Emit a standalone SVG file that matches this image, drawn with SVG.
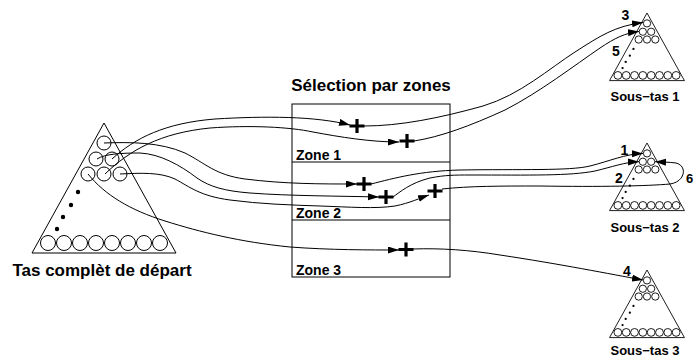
<svg xmlns="http://www.w3.org/2000/svg" width="694" height="358" viewBox="0 0 694 358">
<style>
text{font-family:"Liberation Sans",Arial,sans-serif;font-weight:bold;fill:#000}
.ttl{font-size:17px}
.zn{font-size:14px}
.st{font-size:13px;text-anchor:middle}
.num{font-size:14px;text-anchor:middle}
.hs{fill:none;stroke:#000}
.dot{fill:#000;stroke:none}
.ln{fill:none;stroke:#000;stroke-width:1}
.plus{fill:none;stroke:#000;stroke-width:3.2}
</style>
<defs>
<marker id="ah" markerUnits="userSpaceOnUse" viewBox="0 0 12 8" markerWidth="12" markerHeight="8" refX="11" refY="3.5" orient="auto">
<path d="M0,0 L11,3.5 L0,7 Z" fill="#000"/>
</marker>
<path id="pl" d="M-7.5,0 H7.5 M0,-7 V7"/>
<g id="heap" class="hs">
<path d="M0,0 L-72,130 L72,130 Z"/>
<circle cx="0" cy="20" r="7"/>
<circle cx="-8" cy="36" r="7"/>
<circle cx="8" cy="36" r="7"/>
<circle cx="-16" cy="51" r="7"/>
<circle cx="0" cy="51" r="7"/>
<circle cx="16" cy="51" r="7"/>
<circle class="dot" cx="-26" cy="69" r="2.2"/>
<circle class="dot" cx="-33" cy="82" r="2.2"/>
<circle class="dot" cx="-41" cy="94" r="2.2"/>
<circle class="dot" cx="-47" cy="106" r="2.2"/>
<circle cx="-56" cy="120" r="7.5"/>
<circle cx="-40" cy="120" r="7.5"/>
<circle cx="-24" cy="120" r="7.5"/>
<circle cx="-8" cy="120" r="7.5"/>
<circle cx="8" cy="120" r="7.5"/>
<circle cx="24" cy="120" r="7.5"/>
<circle cx="40" cy="120" r="7.5"/>
<circle cx="56" cy="120" r="7.5"/>
</g>
</defs>

<g id="tas-complet">
<use href="#heap" transform="translate(104,123)" stroke-width="1"/>
<text class="ttl" x="102" y="276" text-anchor="middle">Tas complèt de départ</text>
</g>

<g id="selection-zones">
<text class="ttl" x="371" y="91" text-anchor="middle">Sélection par zones</text>
<rect x="292" y="104" width="158" height="173" fill="none" stroke="#000" stroke-width="1"/>
<line x1="292" y1="162" x2="450" y2="162" stroke="#000" stroke-width="1"/>
<line x1="292" y1="220" x2="450" y2="220" stroke="#000" stroke-width="1"/>
<text class="zn" x="296" y="160">Zone 1</text>
<text class="zn" x="296" y="218">Zone 2</text>
<text class="zn" x="296" y="275">Zone 3</text>
</g>

<g id="sous-tas-1">
<use href="#heap" transform="translate(647,13) scale(0.52)" stroke-width="1.7"/>
<text class="st" x="645" y="101">Sous−tas 1</text>
</g>
<g id="sous-tas-2">
<use href="#heap" transform="translate(647,143) scale(0.52)" stroke-width="1.7"/>
<text class="st" x="645" y="232">Sous−tas 2</text>
</g>
<g id="sous-tas-3">
<use href="#heap" transform="translate(647,270) scale(0.52)" stroke-width="1.7"/>
<text class="st" x="645" y="355">Sous−tas 3</text>
</g>

<g id="connectors">
<path class="ln" marker-end="url(#ah)" d="M112,159 C135,138 165,123 215,119 C265,116 315,116 350,125"/>
<path class="ln" marker-end="url(#ah)" d="M364,126 C400,126 440,118 483,106 C520,95 550,68 575,52 C600,36 615,26 643,22.5"/>
<path class="ln" marker-end="url(#ah)" d="M105,174 C130,150 160,133 210,128 C250,125 290,127 313,132 C340,137 370,142 399,142"/>
<path class="ln" marker-end="url(#ah)" d="M414,141 C440,137 470,126 505,110 C540,92 575,65 600,48 C615,38 625,33 639,31.5"/>
<path class="ln" marker-end="url(#ah)" d="M104,143 C130,142 160,142 185,153 C205,163 215,175 245,179 C285,184 320,184 357,184"/>
<path class="ln" marker-end="url(#ah)" d="M371,184 C395,178 420,171 460,170 C520,169 570,171 590,166 C610,161 625,154 643,153.5"/>
<path class="ln" marker-end="url(#ah)" d="M97,159 C105,154 120,153 140,153 C160,154 180,165 197,178 C210,187 225,191 250,193 C290,196 340,196 379,197"/>
<path class="ln" marker-end="url(#ah)" d="M393,197 C400,192 410,183 430,178 C445,175 455,175 470,175 C530,175 570,176 595,171 C612,167 625,162 639,161.7"/>
<path class="ln" marker-end="url(#ah)" d="M120,174 C140,173 160,172 175,179 C190,187 200,196 230,200 C260,204 290,205 320,206 C350,207 375,209 395,206 C410,203 420,198 429,195"/>
<path class="ln" marker-end="url(#ah)" d="M442,189 C470,186 500,186 540,186 C600,187 648,186 670,184 C685,182 688,166 676,163 C668,162 662,162 655,161.7"/>
<path class="ln" marker-end="url(#ah)" d="M88,174 C105,195 130,210 165,221 C200,232 240,242 290,247 C330,250 370,250 399,250"/>
<path class="ln" marker-end="url(#ah)" d="M413,249 C440,248 470,250 500,255 C560,264 610,274 643,280"/>
</g>

<g id="selections">
<use href="#pl" class="plus" x="357" y="126"/>
<use href="#pl" class="plus" x="407" y="141"/>
<use href="#pl" class="plus" x="364" y="184"/>
<use href="#pl" class="plus" x="386" y="197"/>
<use href="#pl" class="plus" x="435" y="191"/>
<use href="#pl" class="plus" x="406" y="249.5"/>
</g>

<g id="labels">
<text class="num" x="625.5" y="20">3</text>
<text class="num" x="616" y="56">5</text>
<text class="num" x="624.5" y="155">1</text>
<text class="num" x="619" y="183">2</text>
<text class="num" x="627" y="276">4</text>
<text x="686" y="183" style="font-size:13px">6</text>
</g>
</svg>
